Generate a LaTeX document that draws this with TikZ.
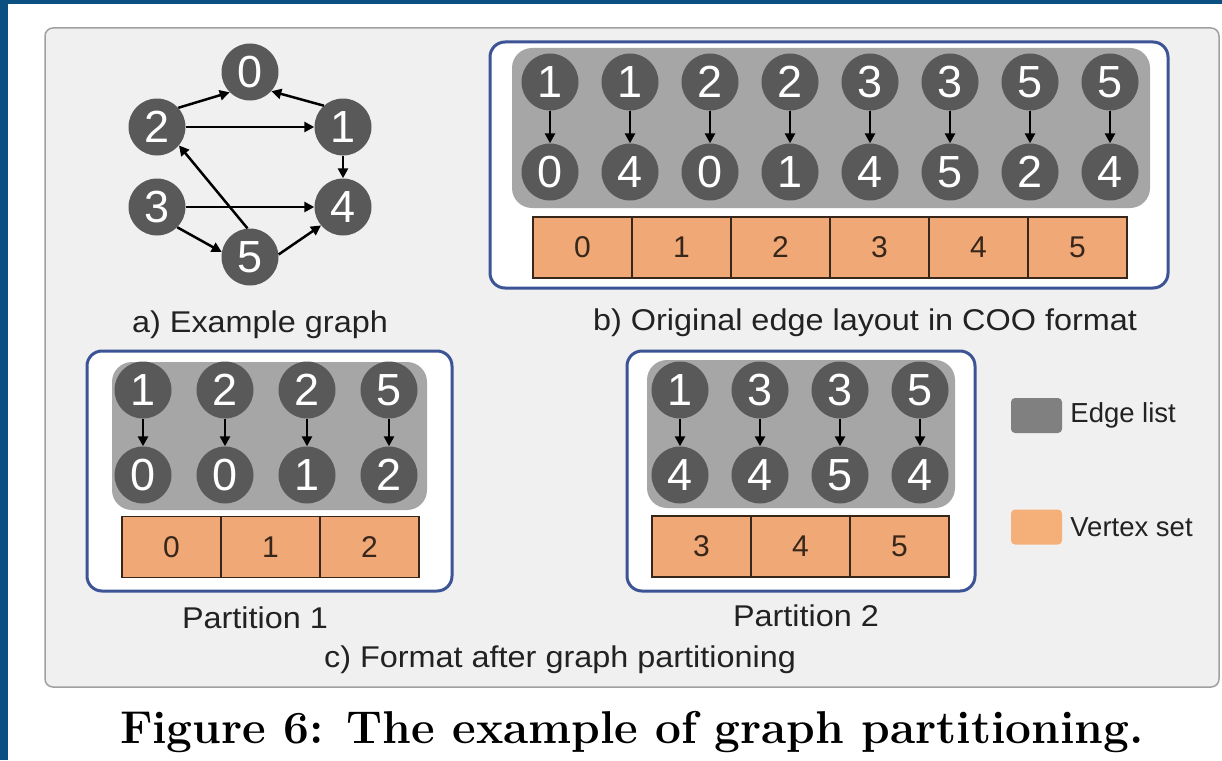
\documentclass[tikz,border=0pt]{standalone}
\usepackage{fontspec}
\usepackage{graphicx}
\usepackage{xcolor}
\usepackage{tikz}
\usetikzlibrary{shapes.geometric, arrows, arrows.meta, positioning}

\newfontfamily\sansfont{Liberation Sans}
\definecolor{pageblue}{RGB}{10,80,128}
\definecolor{panelgray}{RGB}{240,240,240}
\definecolor{paneledge}{RGB}{160,160,160}
\definecolor{frameblue}{RGB}{60,84,150}
\definecolor{listgray}{RGB}{166,166,166}
\definecolor{vtxgray}{RGB}{89,89,89}
\definecolor{cellorange}{RGB}{240,168,118}
\definecolor{celledge}{RGB}{55,38,26}
\definecolor{swatchgray}{RGB}{128,128,128}
\definecolor{swatchorange}{RGB}{245,176,122}
\definecolor{textgray}{RGB}{34,34,34}
\newcommand{\widen}[1]{\scalebox{1.08}[1]{#1}}

\begin{document}
\begin{tikzpicture}[x=1pt, y=-1pt, node distance=80pt,
    vtx/.style={circle, fill=vtxgray, minimum size=57pt, inner sep=0pt, text=white, font=\sansfont\fontsize{45}{45}\selectfont},
    vcell/.style={rectangle, draw=celledge, line width=1.5pt, fill=cellorange, minimum width=99pt, minimum height=61pt, inner sep=0pt, text=celledge, font=\sansfont\fontsize{30}{30}\selectfont},
    blueframe/.style={draw=frameblue, line width=3pt, fill=white, rounded corners=15pt},
    listbox/.style={fill=listgray, rounded corners=20pt},
    arrow/.style={line width=2.5pt, ->, >={Triangle[length=10pt, width=10pt]}},
    subcap/.style={anchor=base, inner sep=0pt, text=textgray, font=\sansfont\fontsize{30}{30}\selectfont},
    swatch/.style={rectangle, rounded corners=4pt, minimum width=51pt, minimum height=35pt, inner sep=0pt},
    legendtext/.style={inner sep=0pt, text=textgray, font=\sansfont\fontsize{27.5}{27.5}\selectfont}]

% page and panel
\fill [white] (0,0) rectangle (1222,760);
\fill [pageblue] (0,0) rectangle (7.5,760);
\fill [pageblue] (0,0) rectangle (1222,4);
\draw [paneledge, line width=1.5pt, fill=panelgray, rounded corners=8pt] (45,28) rectangle (1219,687);

% a) example graph
\node (v0) [vtx] at (250,72) {0};
\node (v2) [vtx] at (157,127) {2};
\node (v1) [vtx] at (343,127) {1};
\node (v3) [vtx] at (157,207) {3};
\node (v4) [vtx] at (343,207) {4};
\node (v5) [vtx] at (250,257) {5};

\draw [arrow] (v2.42) -- (v0.225);
\draw [arrow] (v1.132) -- (v0.318);
\draw [arrow] (v2) -- (v1);
\draw [arrow] (v1) -- (v4);
\draw [arrow] (v3) -- (v4);
\draw [arrow] (v3.-45) -- (v5.170);
\draw [arrow] (v5.95) -- (v2.-40);
\draw [arrow] (v5.5) -- (v4.220);

\node (capa) [subcap] at (260,332) {\widen{a) Example graph}};

% b) COO layout
\draw [blueframe] (490,42) rectangle (1168,288);
\fill [listbox] (512,48) rectangle (1150,208);
\begin{scope}[node distance=99pt]
\node (bv0) [vcell] at (582.5,247.5) {0};
\node (bv1) [vcell, right of=bv0] {1};
\node (bv2) [vcell, right of=bv1] {2};
\node (bv3) [vcell, right of=bv2] {3};
\node (bv4) [vcell, right of=bv3] {4};
\node (bv5) [vcell, right of=bv4] {5};
\end{scope}
\node (bs1) [vtx] at (550,82) {1};
\node (bs2) [vtx, right of=bs1] {1};
\node (bs3) [vtx, right of=bs2] {2};
\node (bs4) [vtx, right of=bs3] {2};
\node (bs5) [vtx, right of=bs4] {3};
\node (bs6) [vtx, right of=bs5] {3};
\node (bs7) [vtx, right of=bs6] {5};
\node (bs8) [vtx, right of=bs7] {5};
\node (bd1) [vtx, below of=bs1, yshift=-10pt] {0};
\node (bd2) [vtx, right of=bd1] {4};
\node (bd3) [vtx, right of=bd2] {0};
\node (bd4) [vtx, right of=bd3] {1};
\node (bd5) [vtx, right of=bd4] {4};
\node (bd6) [vtx, right of=bd5] {5};
\node (bd7) [vtx, right of=bd6] {2};
\node (bd8) [vtx, right of=bd7] {4};
\draw [arrow] (bs1) -- (bd1);
\draw [arrow] (bs2) -- (bd2);
\draw [arrow] (bs3) -- (bd3);
\draw [arrow] (bs4) -- (bd4);
\draw [arrow] (bs5) -- (bd5);
\draw [arrow] (bs6) -- (bd6);
\draw [arrow] (bs7) -- (bd7);
\draw [arrow] (bs8) -- (bd8);

\node (capb) [subcap] at (865,330) {\widen{b) Original edge layout in COO format}};

% c) partition 1
\draw [blueframe] (87,351) rectangle (452,591);
\fill [listbox] (112,362) rectangle (427,510);
\begin{scope}[node distance=99pt]
\node (pv0) [vcell] at (171.5,547) {0};
\node (pv1) [vcell, right of=pv0] {1};
\node (pv2) [vcell, right of=pv1] {2};
\end{scope}
\begin{scope}[node distance=82pt]
\node (ps1) [vtx] at (143,390) {1};
\node (ps2) [vtx, right of=ps1] {2};
\node (ps3) [vtx, right of=ps2] {2};
\node (ps4) [vtx, right of=ps3] {5};
\node (pd1) [vtx, below of=ps1, yshift=-3pt] {0};
\node (pd2) [vtx, right of=pd1] {0};
\node (pd3) [vtx, right of=pd2] {1};
\node (pd4) [vtx, right of=pd3] {2};
\end{scope}
\draw [arrow] (ps1) -- (pd1);
\draw [arrow] (ps2) -- (pd2);
\draw [arrow] (ps3) -- (pd3);
\draw [arrow] (ps4) -- (pd4);

\node (capp1) [subcap] at (255,628) {\widen{Partition 1}};

% c) partition 2
\draw [blueframe] (627,351) rectangle (975,591);
\fill [listbox] (647,360) rectangle (955,508);
\begin{scope}[node distance=99pt]
\node (qv3) [vcell] at (701.5,546.5) {3};
\node (qv4) [vcell, right of=qv3] {4};
\node (qv5) [vcell, right of=qv4] {5};
\end{scope}
\node (qs1) [vtx] at (680,390) {1};
\node (qs2) [vtx, right of=qs1] {3};
\node (qs3) [vtx, right of=qs2] {3};
\node (qs4) [vtx, right of=qs3] {5};
\node (qd1) [vtx, below of=qs1, yshift=-5pt] {4};
\node (qd2) [vtx, right of=qd1] {4};
\node (qd3) [vtx, right of=qd2] {5};
\node (qd4) [vtx, right of=qd3] {4};
\draw [arrow] (qs1) -- (qd1);
\draw [arrow] (qs2) -- (qd2);
\draw [arrow] (qs3) -- (qd3);
\draw [arrow] (qs4) -- (qd4);

\node (capp2) [subcap] at (806,626) {\widen{Partition 2}};
\node (capc) [subcap] at (560,667) {\widen{c) Format after graph partitioning}};

% legend
\node (lgedge) [swatch, fill=swatchgray] at (1036.5,415.5) {};
\node (lgedgetxt) [legendtext, right=8pt of lgedge] {Edge list};
\node (lgvert) [swatch, fill=swatchorange] at (1036.5,527) {};
\node (lgverttxt) [legendtext, right=8pt of lgvert] {Vertex set};

% figure caption
\node (figcap) [anchor=base, inner sep=0pt, font=\bfseries\fontsize{46}{46}\selectfont] at (632,743) {Figure 6: The example of graph partitioning.};

\end{tikzpicture}
\end{document}
